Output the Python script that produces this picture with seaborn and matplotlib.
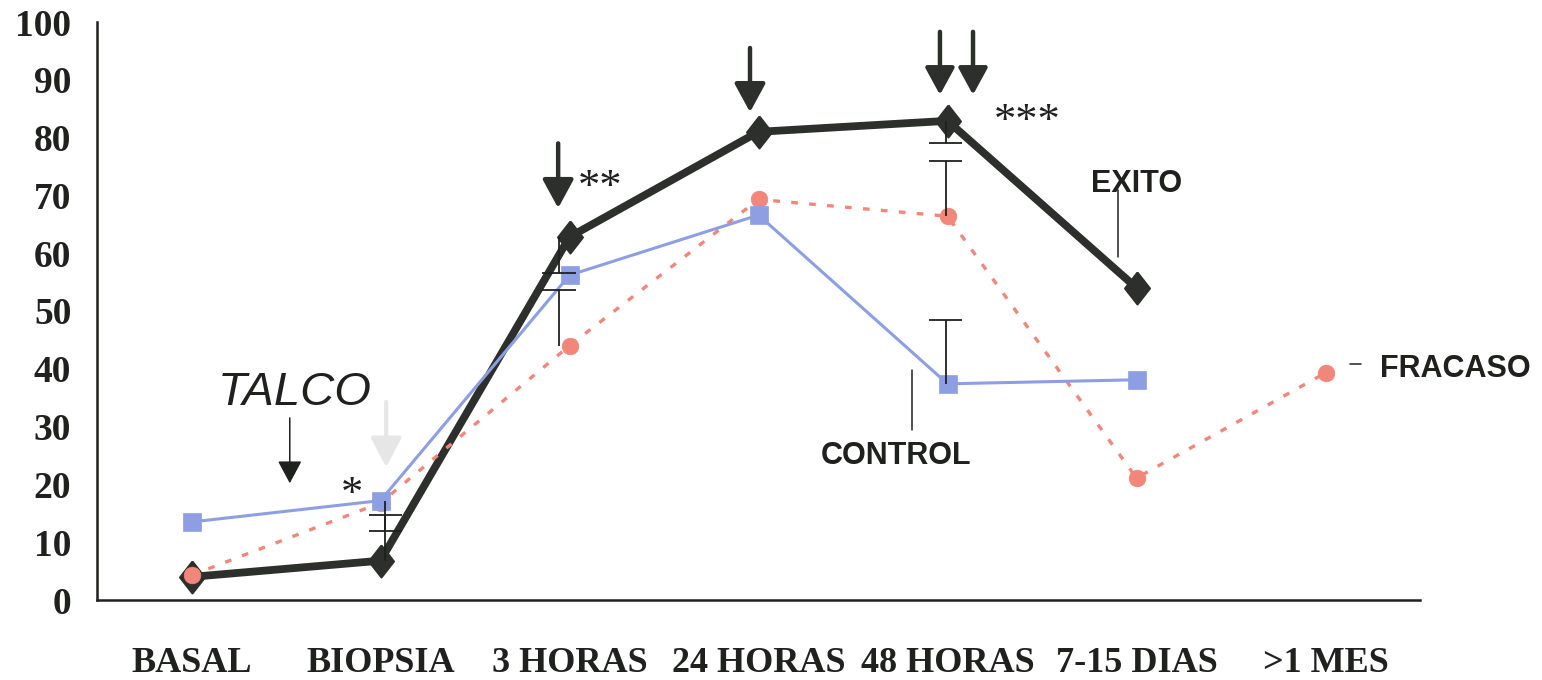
import numpy as np
import pandas as pd
import matplotlib
matplotlib.use("Agg")
import matplotlib.pyplot as plt
from matplotlib.ticker import FixedLocator
import seaborn as sns

# --- data -------------------------------------------------------------
categories = ["BASAL", "BIOPSIA", "3 HORAS", "24 HORAS", "48 HORAS", "7-15 DIAS", ">1 MES"]
exito = [4.0, 6.8, 62.8, 81.0, 82.9, 54.0, np.nan]
control = [13.5, 17.2, 56.2, 66.6, 37.4, 38.1, np.nan]
fracaso = [4.3, 16.8, 44.0, 69.3, 66.4, 21.1, 39.3]

# one-sided dispersion bars: (category index, series value, bar end)
exito_bars = [(1, 6.8, 14.7), (2, 62.8, 56.6), (4, 82.9, 79.1)]
control_bars = [(1, 17.2, 11.9), (4, 37.4, 48.4)]
fracaso_bars = [(2, 44.0, 53.6), (4, 66.4, 76.0)]

yticks = list(range(0, 101, 10))

# --- style ------------------------------------------------------------
sns.set_style("white")
plt.rcParams["font.family"] = ["Liberation Serif", "DejaVu Serif"]

INK = "#1f211f"
C_EXITO = "#2c2f2c"
C_CONTROL = "#8d9fe2"
C_FRACASO = "#f2867a"

fig = plt.figure(figsize=(15.42, 6.8), dpi=100)
ax = fig.add_axes([97 / 1542, 80 / 680, 1323 / 1542, 578 / 680])

df = pd.DataFrame({
    "pos": np.arange(len(categories)),
    "EXITO": exito,
    "CONTROL": control,
    "FRACASO": fracaso,
})

thin_diamond = [(0, 1), (0.78, 0), (0, -1), (-0.78, 0), (0, 1)]

sns.lineplot(data=df.dropna(subset=["EXITO"]), x="pos", y="EXITO", ax=ax,
             color=C_EXITO, lw=5.6, marker=thin_diamond, markersize=23,
             markeredgecolor=C_EXITO, markeredgewidth=1.5, zorder=2)
sns.lineplot(data=df, x="pos", y="FRACASO", ax=ax,
             color=C_FRACASO, lw=2.4, linestyle=(0, (2.0, 3.4)),
             marker="o", markersize=12, markeredgecolor=C_FRACASO,
             markeredgewidth=0.5, zorder=3)
sns.lineplot(data=df.dropna(subset=["CONTROL"]), x="pos", y="CONTROL", ax=ax,
             color=C_CONTROL, lw=2.2, marker="s", markersize=12.5,
             markeredgecolor=C_CONTROL, markeredgewidth=0.5, zorder=4)

# dispersion bars: a stem from the point plus a single cap at the far end
bar_shift = {1: 0.026, 2: -0.055, 4: -0.01}
cap_half = 0.088
for bars in (exito_bars, control_bars, fracaso_bars):
    for idx, val, end in bars:
        xb = idx + bar_shift[idx]
        ax.vlines(xb, min(val, end), max(val, end), color=INK, lw=1.3, zorder=5)
        ax.hlines(end, xb - cap_half, xb + cap_half, color=INK, lw=1.3, zorder=5)

# --- annotations --------------------------------------------------------
def arrow(x, y_tail, y_tip, color, lw, hl, hw):
    ax.annotate("", xy=(x, y_tip), xytext=(x, y_tail),
                arrowprops=dict(arrowstyle=f"-|>,head_length={hl},head_width={hw}",
                                color=color, lw=lw, shrinkA=0, shrinkB=0,
                                mutation_scale=10),
                zorder=6)

arrow(1.94, 79.0, 67.8, C_EXITO, 3.2, 1.75, 0.95)
arrow(2.955, 95.5, 84.4, C_EXITO, 3.2, 1.75, 0.95)
arrow(3.96, 98.3, 87.4, C_EXITO, 3.2, 1.65, 0.9)
arrow(4.135, 98.3, 87.4, C_EXITO, 3.2, 1.65, 0.9)
arrow(0.52, 31.5, 20.2, INK, 1.1, 1.4, 0.75)
arrow(1.03, 34.3, 23.0, "#e6e6e6", 3.0, 1.8, 0.95)

ax.text(0.548, 35.8, "TALCO", fontsize=34, style="italic",
        family=["Liberation Sans", "DejaVu Sans"], color=INK,
        ha="center", va="center")

for xs, ys, s in [(0.85, 16.3, "*"), (2.16, 69.4, "**"), (4.42, 80.8, "***")]:
    ax.text(xs, ys, s, fontsize=32, color=INK, ha="center", va="baseline")

label_kw = dict(fontsize=22, fontweight="bold", color=INK,
                family=["Liberation Sans", "DejaVu Sans"])
ax.text(5.0, 72.0, "EXITO", ha="center", va="center", **label_kw)
ax.plot([4.9, 4.9], [71.0, 59.3], color=INK, lw=1.1, zorder=6)

ax.text(3.73, 24.9, "CONTROL", ha="center", va="center", **label_kw)
ax.plot([3.81, 3.81], [39.8, 29.4], color=INK, lw=1.1, zorder=6)

ax.text(6.29, 40.0, "FRACASO", ha="left", va="center", **label_kw)
ax.plot([6.13, 6.19], [40.8, 40.8], color=INK, lw=1.1, zorder=6)

# --- axes ---------------------------------------------------------------
ax.set_xlim(-0.5, 6.5)
ax.set_ylim(0, 100)
ax.set_xlabel("")
ax.set_ylabel("")
ax.set_yticks(yticks)
ax.set_yticklabels([str(v) for v in yticks], fontsize=27, fontweight="bold", color=INK)
ax.set_xticks(range(len(categories)))
ax.set_xticklabels(categories, fontsize=26, fontweight="bold", color=INK)
ax.xaxis.set_minor_locator(FixedLocator(np.arange(-0.5, 7.0, 1.0)))
ax.tick_params(axis="x", which="major", length=0, pad=34)
ax.tick_params(axis="x", which="minor", direction="out", length=9, width=1.6, color=INK)
ax.tick_params(axis="y", which="major", direction="out", length=9.5, width=1.6,
               color=INK, pad=9)
for side in ("top", "right"):
    ax.spines[side].set_visible(False)
for side in ("left", "bottom"):
    ax.spines[side].set_color(INK)
    ax.spines[side].set_linewidth(1.8)
ax.grid(False)
ax.patch.set_alpha(0)

fig.savefig("out.png", dpi=100, facecolor="white")
